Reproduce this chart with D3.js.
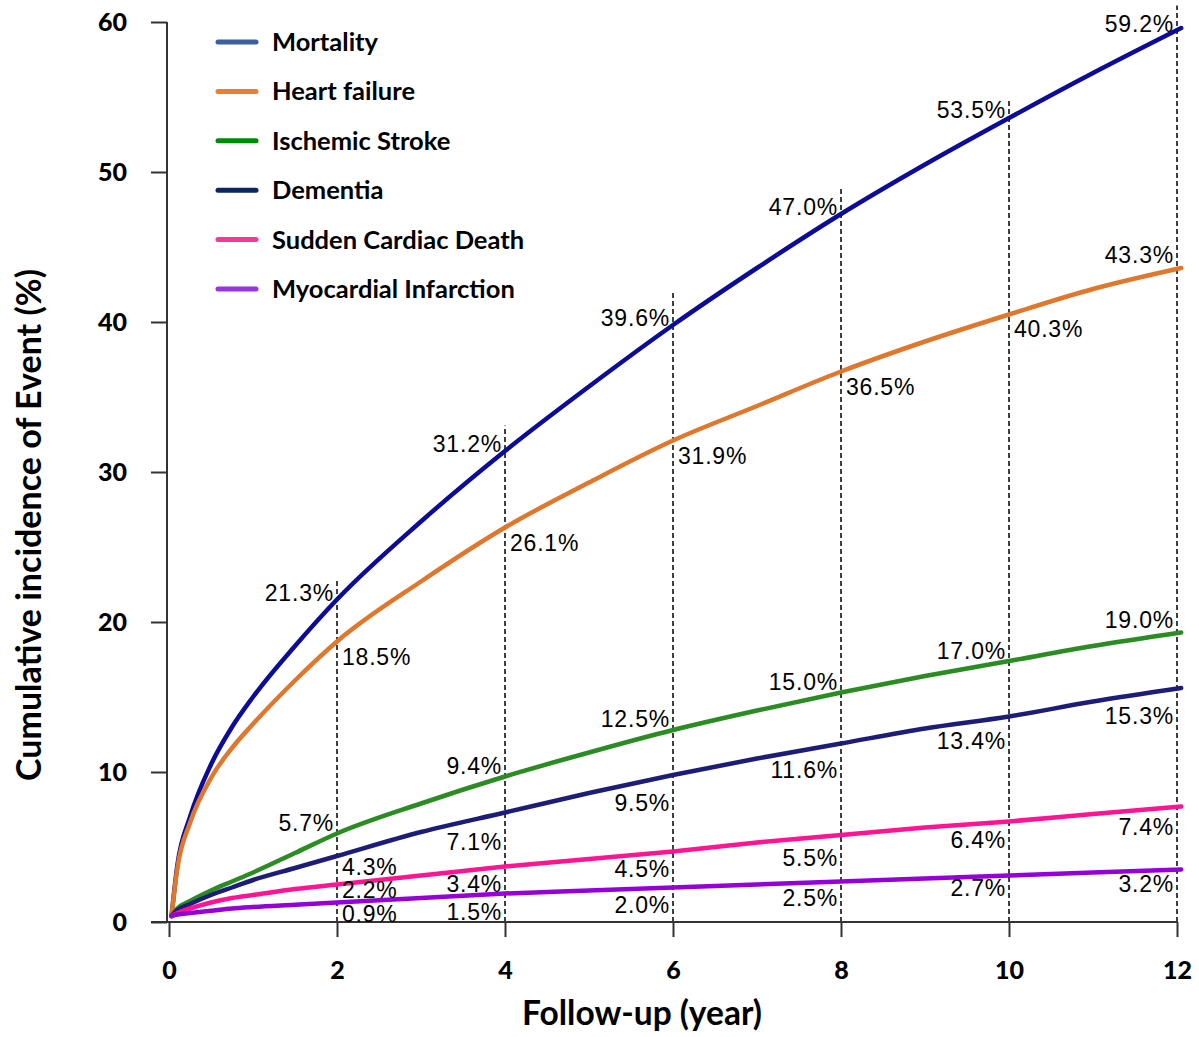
<!DOCTYPE html>
<html><head><meta charset="utf-8">
<script src="https://cdn.jsdelivr.net/npm/d3@7"></script>
<style>body{margin:0;background:#fff}svg{display:block}</style>
</head><body><svg id="c" width="1199" height="1037"></svg>
<script>
const seriesNames = ["Mortality","Heart failure","Ischemic Stroke","Dementia","Sudden Cardiac Death","Myocardial Infarction"];
const times = [0.03,0.1,0.25,0.5,0.75,1,1.5,2,3,4,5,6,7,8,9,10,11,12.05];
const mortality = [0.4,3.8,7.0,10.5,13.0,15.0,18.4,21.5,26.7,31.4,35.7,39.8,43.6,47.2,50.5,53.6,56.6,59.6];
const heartFailure = [0.4,3.6,6.6,9.6,11.6,13.2,16.1,18.7,22.7,26.3,29.3,32.1,34.4,36.7,38.7,40.5,42.2,43.6];
const stroke = [0.4,0.9,1.4,2.1,2.7,3.3,4.6,5.9,7.9,9.7,11.3,12.8,14.1,15.3,16.4,17.4,18.4,19.3];
const dementia = [0.4,0.8,1.2,1.8,2.3,2.8,3.6,4.4,6.0,7.3,8.6,9.8,10.9,11.9,12.9,13.7,14.7,15.6];
const scd = [0.4,0.6,0.9,1.3,1.6,1.8,2.2,2.5,3.1,3.7,4.2,4.7,5.3,5.8,6.3,6.7,7.2,7.7];
const mi = [0.4,0.5,0.6,0.75,0.9,1.0,1.15,1.3,1.6,1.9,2.1,2.3,2.5,2.7,2.9,3.1,3.3,3.5];

const markYears = [2,4,6,8,10,12];
const dashTops = [22.8,33.1,42.1,49.0,54.8,61.1];
const lblMortality = ["21.3%","31.2%","39.6%","47.0%","53.5%","59.2%"];
const lblHeartFailure = ["18.5%","26.1%","31.9%","36.5%","40.3%","43.3%"];
const lblStroke = ["5.7%","9.4%","12.5%","15.0%","17.0%","19.0%"];
const lblDementia = ["4.3%","7.1%","9.5%","11.6%","13.4%","15.3%"];
const lblScd = ["2.2%","3.4%","4.5%","5.5%","6.4%","7.4%"];
const lblMi = ["0.9%","1.5%","2.0%","2.5%","2.7%","3.2%"];
const xTicks = [0,2,4,6,8,10,12];
const yTicks = [0,10,20,30,40,50,60];

// styling / layout (not data)
const lineColors = ["#0c0c96","#df782c","#2a8c22","#1d1d78","#ff1493","#9400d6"];
const legendColors = ["#3b5fa0","#ed7d31","#008a00","#0a2560","#f03c96","#9933e0"];
// label placement per series: [side(-1 left / +1 right), baseline offset px from value]
const lblPlace = [
  [[-1,-2],[-1,-2],[-1,-2],[-1,-2],[-1,-2],[-1,-2]],
  [[1,20],[1,20],[1,20],[1,20],[1,19],[-1,-10]],
  [[-1,-6],[-1,-7],[-1,-8],[-1,-7],[-1,-8],[-1,-9]],
  [[1,17],[-1,34],[-1,31],[-1,30],[-1,28],[-1,31]],
  [[1,9],[-1,21],[-1,22],[-1,26],[-1,22],[-1,24]],
  [[1,13],[-1,20],[-1,21],[-1,21],[-1,14],[-1,18]]
];

const allSeries = [mortality,heartFailure,stroke,dementia,scd,mi];
const allLabels = [lblMortality,lblHeartFailure,lblStroke,lblDementia,lblScd,lblMi];
const labelVals = allLabels.map(a=>a.map(s=>parseFloat(s)));

const svg = d3.select("#c");
const x = d3.scaleLinear().domain([0,12]).range([169,1177]);
const y = d3.scaleLinear().domain([0,60]).range([922,22]);
const sansBold = "Lato, 'Open Sans', sans-serif";

// dashed verticals
svg.append("g").selectAll("line").data(markYears).join("line")
  .attr("x1",d=>x(d)).attr("x2",d=>x(d))
  .attr("y1",y(0)).attr("y2",(d,i)=>y(dashTops[i]))
  .attr("stroke","#000").attr("stroke-width",1.5).attr("stroke-dasharray","5,3");

// axes
const xAxis = d3.axisBottom(x).tickValues(xTicks).tickSize(15).tickSizeOuter(0).tickFormat(d3.format("d"));
const gx = svg.append("g").attr("transform",`translate(0,${y(0)})`).call(xAxis);
gx.select(".domain").attr("d",`M151,0H1177`);
const yAxis = d3.axisLeft(y).tickValues(yTicks).tickSize(16).tickSizeOuter(0);
const gy = svg.append("g").attr("transform",`translate(167,0)`).call(yAxis);
gy.select(".domain").attr("d",`M0,${y(60)}V${y(0)}`);
[gx,gy].forEach(g=>{
  g.selectAll(".domain,.tick line").attr("stroke","#333").attr("stroke-width",2);
  g.selectAll("text").attr("font-family",sansBold).attr("font-weight","900").attr("font-size",25).attr("fill","#000");
});
gx.selectAll(".tick text").attr("dy",0).attr("y",57);
gy.selectAll(".tick text").attr("x",-40).attr("dy","0.35em");

// lines
const line = d3.line().x((d,i)=>x(times[i])).y(d=>y(d)).curve(d3.curveMonotoneX);
svg.append("g").selectAll("path").data(allSeries).join("path")
  .attr("d",d=>line(d)).attr("fill","none")
  .attr("stroke",(d,i)=>lineColors[i]).attr("stroke-width",4.5).attr("stroke-linecap","round");

// value labels
const lg = svg.append("g").attr("font-family","'Liberation Sans', Arial, sans-serif").attr("font-size",23).attr("fill","#000").attr("letter-spacing","0.8px");
allLabels.forEach((labs,si)=>{
  labs.forEach((t,k)=>{
    const p = lblPlace[si][k];
    lg.append("text").text(t)
      .attr("x", x(markYears[k]) + (p[0]<0 ? -3 : 5))
      .attr("y", y(labelVals[si][k]) + p[1])
      .attr("text-anchor", p[0]<0 ? "end" : "start");
  });
});

// legend
const leg = svg.append("g");
seriesNames.forEach((n,i)=>{
  const yy = 42 + i*49.4;
  leg.append("line").attr("x1",218).attr("x2",256).attr("y1",yy).attr("y2",yy)
    .attr("stroke",legendColors[i]).attr("stroke-width",5).attr("stroke-linecap","round");
  leg.append("text").text(n).attr("x",272).attr("y",yy).attr("dy","0.35em")
    .attr("font-family",sansBold).attr("font-weight","bold").attr("font-size",25.5);
});

// axis titles
svg.append("text").text("Follow-up (year)").attr("x",642).attr("y",1025).attr("text-anchor","middle")
  .attr("font-family",sansBold).attr("font-weight","bold").attr("font-size",33.5);
svg.append("text").text("Cumulative incidence of Event (%)")
  .attr("transform","translate(41,525) rotate(-90)").attr("text-anchor","middle")
  .attr("font-family",sansBold).attr("font-weight","bold").attr("font-size",34);
</script></body></html>
